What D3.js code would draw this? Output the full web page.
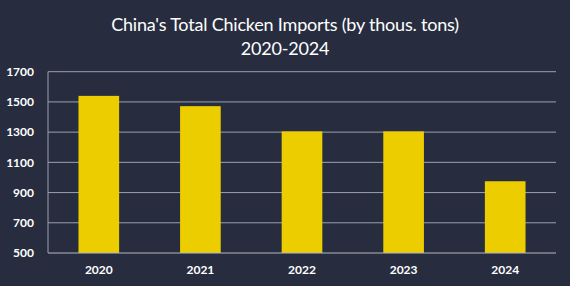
<!DOCTYPE html>
<html lang="en">
<head>
<meta charset="UTF-8">
<title>China chicken imports</title>
<script src="https://d3js.org/d3.v7.min.js"></script>
<style>
  html, body { margin: 0; padding: 0; background: #272d3f; }
  text { font-family: Lato, "Open Sans", sans-serif; fill: #fff; }
</style>
</head>
<body>
<div class="canvas"></div>
<script>
  const years = ['2020', '2021', '2022', '2023', '2024']
  const imports = [1540, 1472, 1305, 1305, 975]
  const yTicks = [500, 700, 900, 1100, 1300, 1500, 1700]

  const W = 570, H = 286
  const svg = d3.select('.canvas')
    .append('svg')
    .attr('width', W)
    .attr('height', H)

  svg.append('rect').attr('width', W).attr('height', H).attr('fill', '#272d3f')

  const x = d3.scaleBand()
    .domain(years)
    .range([48, 556])
    .paddingInner(0.6)
    .paddingOuter(0.3)

  const y = d3.scaleLinear()
    .domain([500, 1700])
    .range([253, 71.7])

  // title
  const title = svg.append('text')
    .attr('text-anchor', 'middle')
    .attr('font-size', 18)
    .style('letter-spacing', '-0.2px')
  title.append('tspan').attr('x', W / 2).attr('y', 31).text("China's Total Chicken Imports (by thous. tons)")
  title.append('tspan').attr('x', W / 2).attr('y', 55).text('2020-2024')

  // gridlines
  svg.append('g')
    .selectAll('line')
    .data(yTicks.slice(1))
    .enter()
    .append('line')
    .attr('x1', 48).attr('x2', 556)
    .attr('y1', d => y(d)).attr('y2', d => y(d))
    .attr('stroke', '#9da1aa')
    .attr('stroke-width', 1)

  // bars
  svg.append('g')
    .selectAll('rect')
    .data(imports)
    .enter()
    .append('rect')
    .attr('x', (d, i) => x(years[i]))
    .attr('width', x.bandwidth())
    .attr('y', d => y(d))
    .attr('height', d => y(500) - y(d))
    .attr('fill', '#ebcd00')

  // axes lines
  svg.append('line')
    .attr('x1', 48).attr('x2', 48)
    .attr('y1', y(1700)).attr('y2', y(500))
    .attr('stroke', '#9da1aa')
  svg.append('line')
    .attr('x1', 48).attr('x2', 556)
    .attr('y1', y(500)).attr('y2', y(500))
    .attr('stroke', '#b4b7be')

  // y tick labels
  svg.append('g')
    .selectAll('text')
    .data(yTicks)
    .enter()
    .append('text')
    .attr('x', 34)
    .attr('y', d => y(d))
    .attr('dy', '0.35em')
    .attr('text-anchor', 'end')
    .attr('font-size', 12)
    .attr('font-weight', 'bold')
    .text(d => d)

  // x tick labels
  svg.append('g')
    .selectAll('text')
    .data(years)
    .enter()
    .append('text')
    .attr('x', d => x(d) + x.bandwidth() / 2)
    .attr('y', 270)
    .attr('dy', '0.35em')
    .attr('text-anchor', 'middle')
    .attr('font-size', 12)
    .attr('font-weight', 'bold')
    .text(d => d)
</script>
</body>
</html>
